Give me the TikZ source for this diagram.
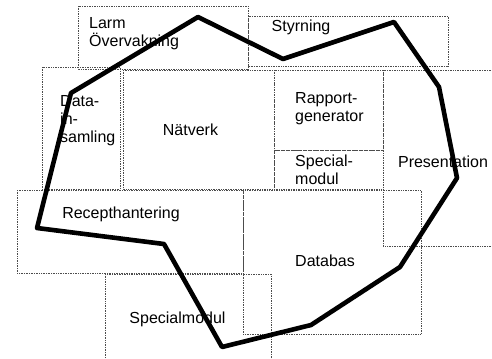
\documentclass[tikz,border=0pt]{standalone}
\usepackage{fontspec}
\setmainfont{Liberation Sans}
\begin{document}
\begin{tikzpicture}[x=1bp,y=-1bp,
  box/.style={draw=black!70, densely dotted, line width=0.7bp},
  lbl/.style={inner sep=0pt, font=\fontsize{16bp}{18bp}\selectfont},
  lblL/.style={lbl, align=left, anchor=north west},
  outline/.style={draw=black, line width=4.6bp, line join=round}]
\useasboundingbox (0,0) rectangle (492,358);

% module areas
\draw[box] (78,6)    rectangle (248,69);
\draw[box] (248,16)  rectangle (448,66);
\draw[box] (42,67)   rectangle (120,189);
\draw[box] (123,70)  rectangle (274,189);
\draw[box] (274,70)  rectangle (383,150);
\draw[box] (274,150) rectangle (383,189);
\draw[box] (383,70)  rectangle (496,246);
\draw[box] (17,190)  rectangle (243,273);
\draw[box] (243,190) rectangle (421,334);
\draw[box] (105,274) rectangle (271,362);

% module names
\node[lblL] (larm) at (89,17) {Larm\\Övervakning};
\node[lbl] (styr) at (301,27) {Styrning};
\node[lblL] (data) at (60,95) {Data-\\in-\\samling};
\node[lbl] (natv) at (190.5,130) {Nätverk};
\node[lblL] (rapp) at (295,92) {Rapport-\\generator};
\node[lblL] (spec1) at (295,155) {Special-\\modul};
\node[lbl] (pres) at (443,162) {Presentation};
\node[lbl] (rece) at (121,214) {Recepthantering};
\node[lbl] (datab) at (325,261) {Databas};
\node[lbl] (spec2) at (177.5,319) {Specialmodul};

% system boundary
\coordinate (p1) at (198,17);
\coordinate (p2) at (283,59);
\coordinate (p3) at (394,22);
\coordinate (p4) at (439,87);
\coordinate (p5) at (457,178);
\coordinate (p6) at (400,267);
\coordinate (p7) at (311,325);
\coordinate (p8) at (222,347);
\coordinate (p9) at (164,244);
\coordinate (p10) at (37,228);
\coordinate (p11) at (71,93);
\draw[outline] (p1) -- (p2) -- (p3) -- (p4) -- (p5) -- (p6) -- (p7)
  -- (p8) -- (p9) -- (p10) -- (p11) -- cycle;
\end{tikzpicture}
\end{document}
